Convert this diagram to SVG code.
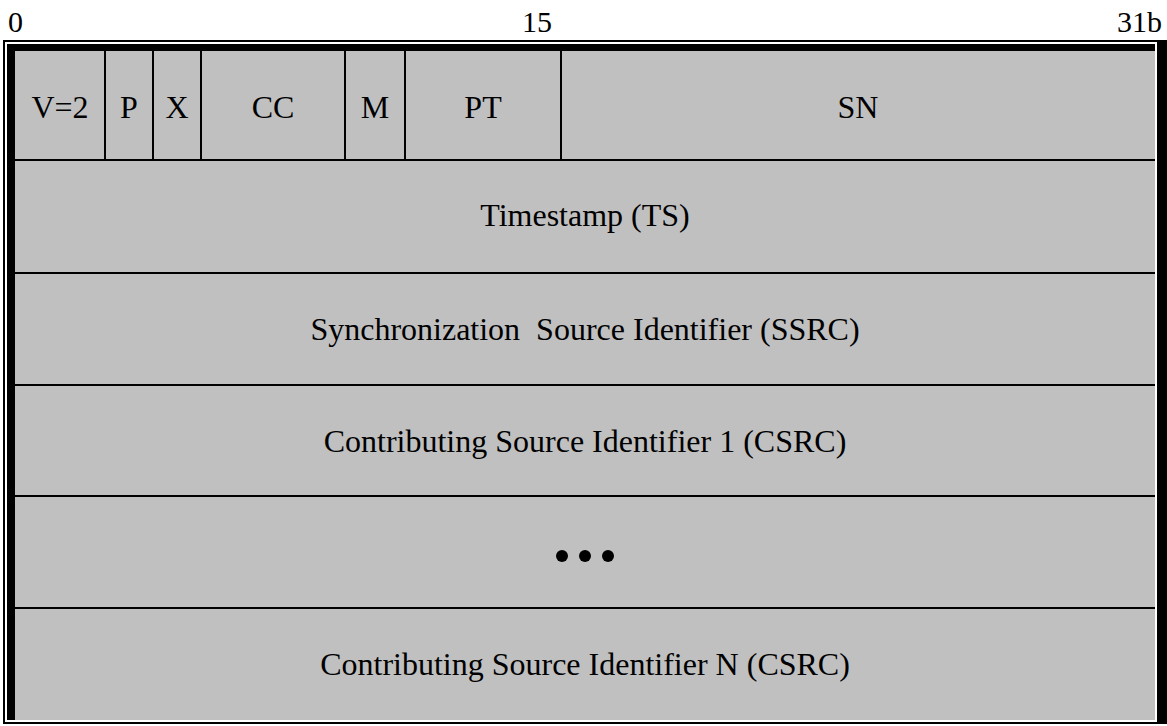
<svg xmlns="http://www.w3.org/2000/svg" width="1167" height="726" viewBox="0 0 1167 726">
<style>
.t{font-family:"Liberation Serif","Times New Roman",serif;font-size:32px;fill:#000;text-anchor:middle;white-space:pre}
.h{font-family:"Liberation Serif","Times New Roman",serif;font-size:30px;fill:#000}
.ln{stroke:#000;stroke-width:2;fill:none}
</style>
<rect width="1167" height="726" fill="#fff"/>
<g id="frame">
<rect x="3" y="40" width="1164" height="684" fill="#000"/>
<rect x="5" y="42" width="1152" height="680" fill="#fff"/>
<rect x="7" y="44" width="1148" height="676" fill="#000"/>
<rect x="15" y="51" width="1140" height="669" fill="#c0c0c0"/>
</g>
<g id="bit-labels">
<text class="h" x="8" y="32">0</text>
<text class="h" x="537" y="32" text-anchor="middle">15</text>
<text class="h" x="1162" y="32" text-anchor="end">31b</text>
</g>
<g id="connectors">
<line class="ln" x1="15" y1="160" x2="1155" y2="160"/>
<line class="ln" x1="15" y1="273" x2="1155" y2="273"/>
<line class="ln" x1="15" y1="385" x2="1155" y2="385"/>
<line class="ln" x1="15" y1="496" x2="1155" y2="496"/>
<line class="ln" x1="15" y1="608" x2="1155" y2="608"/>
<line class="ln" x1="105" y1="51" x2="105" y2="160"/>
<line class="ln" x1="153" y1="51" x2="153" y2="160"/>
<line class="ln" x1="201" y1="51" x2="201" y2="160"/>
<line class="ln" x1="345" y1="51" x2="345" y2="160"/>
<line class="ln" x1="405" y1="51" x2="405" y2="160"/>
<line class="ln" x1="561" y1="51" x2="561" y2="160"/>
</g>
<g id="f-v"><text class="t" x="60" y="118">V=2</text></g>
<g id="f-p"><text class="t" x="129" y="118">P</text></g>
<g id="f-x"><text class="t" x="177" y="118">X</text></g>
<g id="f-cc"><text class="t" x="273" y="118">CC</text></g>
<g id="f-m"><text class="t" x="375" y="118">M</text></g>
<g id="f-pt"><text class="t" x="483" y="118">PT</text></g>
<g id="f-sn"><text class="t" x="858" y="118">SN</text></g>
<g id="f-ts"><text class="t" x="585" y="226">Timestamp (TS)</text></g>
<g id="f-ssrc"><text class="t" x="585" y="340">Synchronization  Source Identifier (SSRC)</text></g>
<g id="f-csrc1"><text class="t" x="585" y="452">Contributing Source Identifier 1 (CSRC)</text></g>
<g id="f-dots">
<circle cx="562" cy="556" r="6" fill="#000"/>
<circle cx="585" cy="556" r="6" fill="#000"/>
<circle cx="608" cy="556" r="6" fill="#000"/>
</g>
<g id="f-csrcn"><text class="t" x="585" y="675">Contributing Source Identifier N (CSRC)</text></g>
</svg>
